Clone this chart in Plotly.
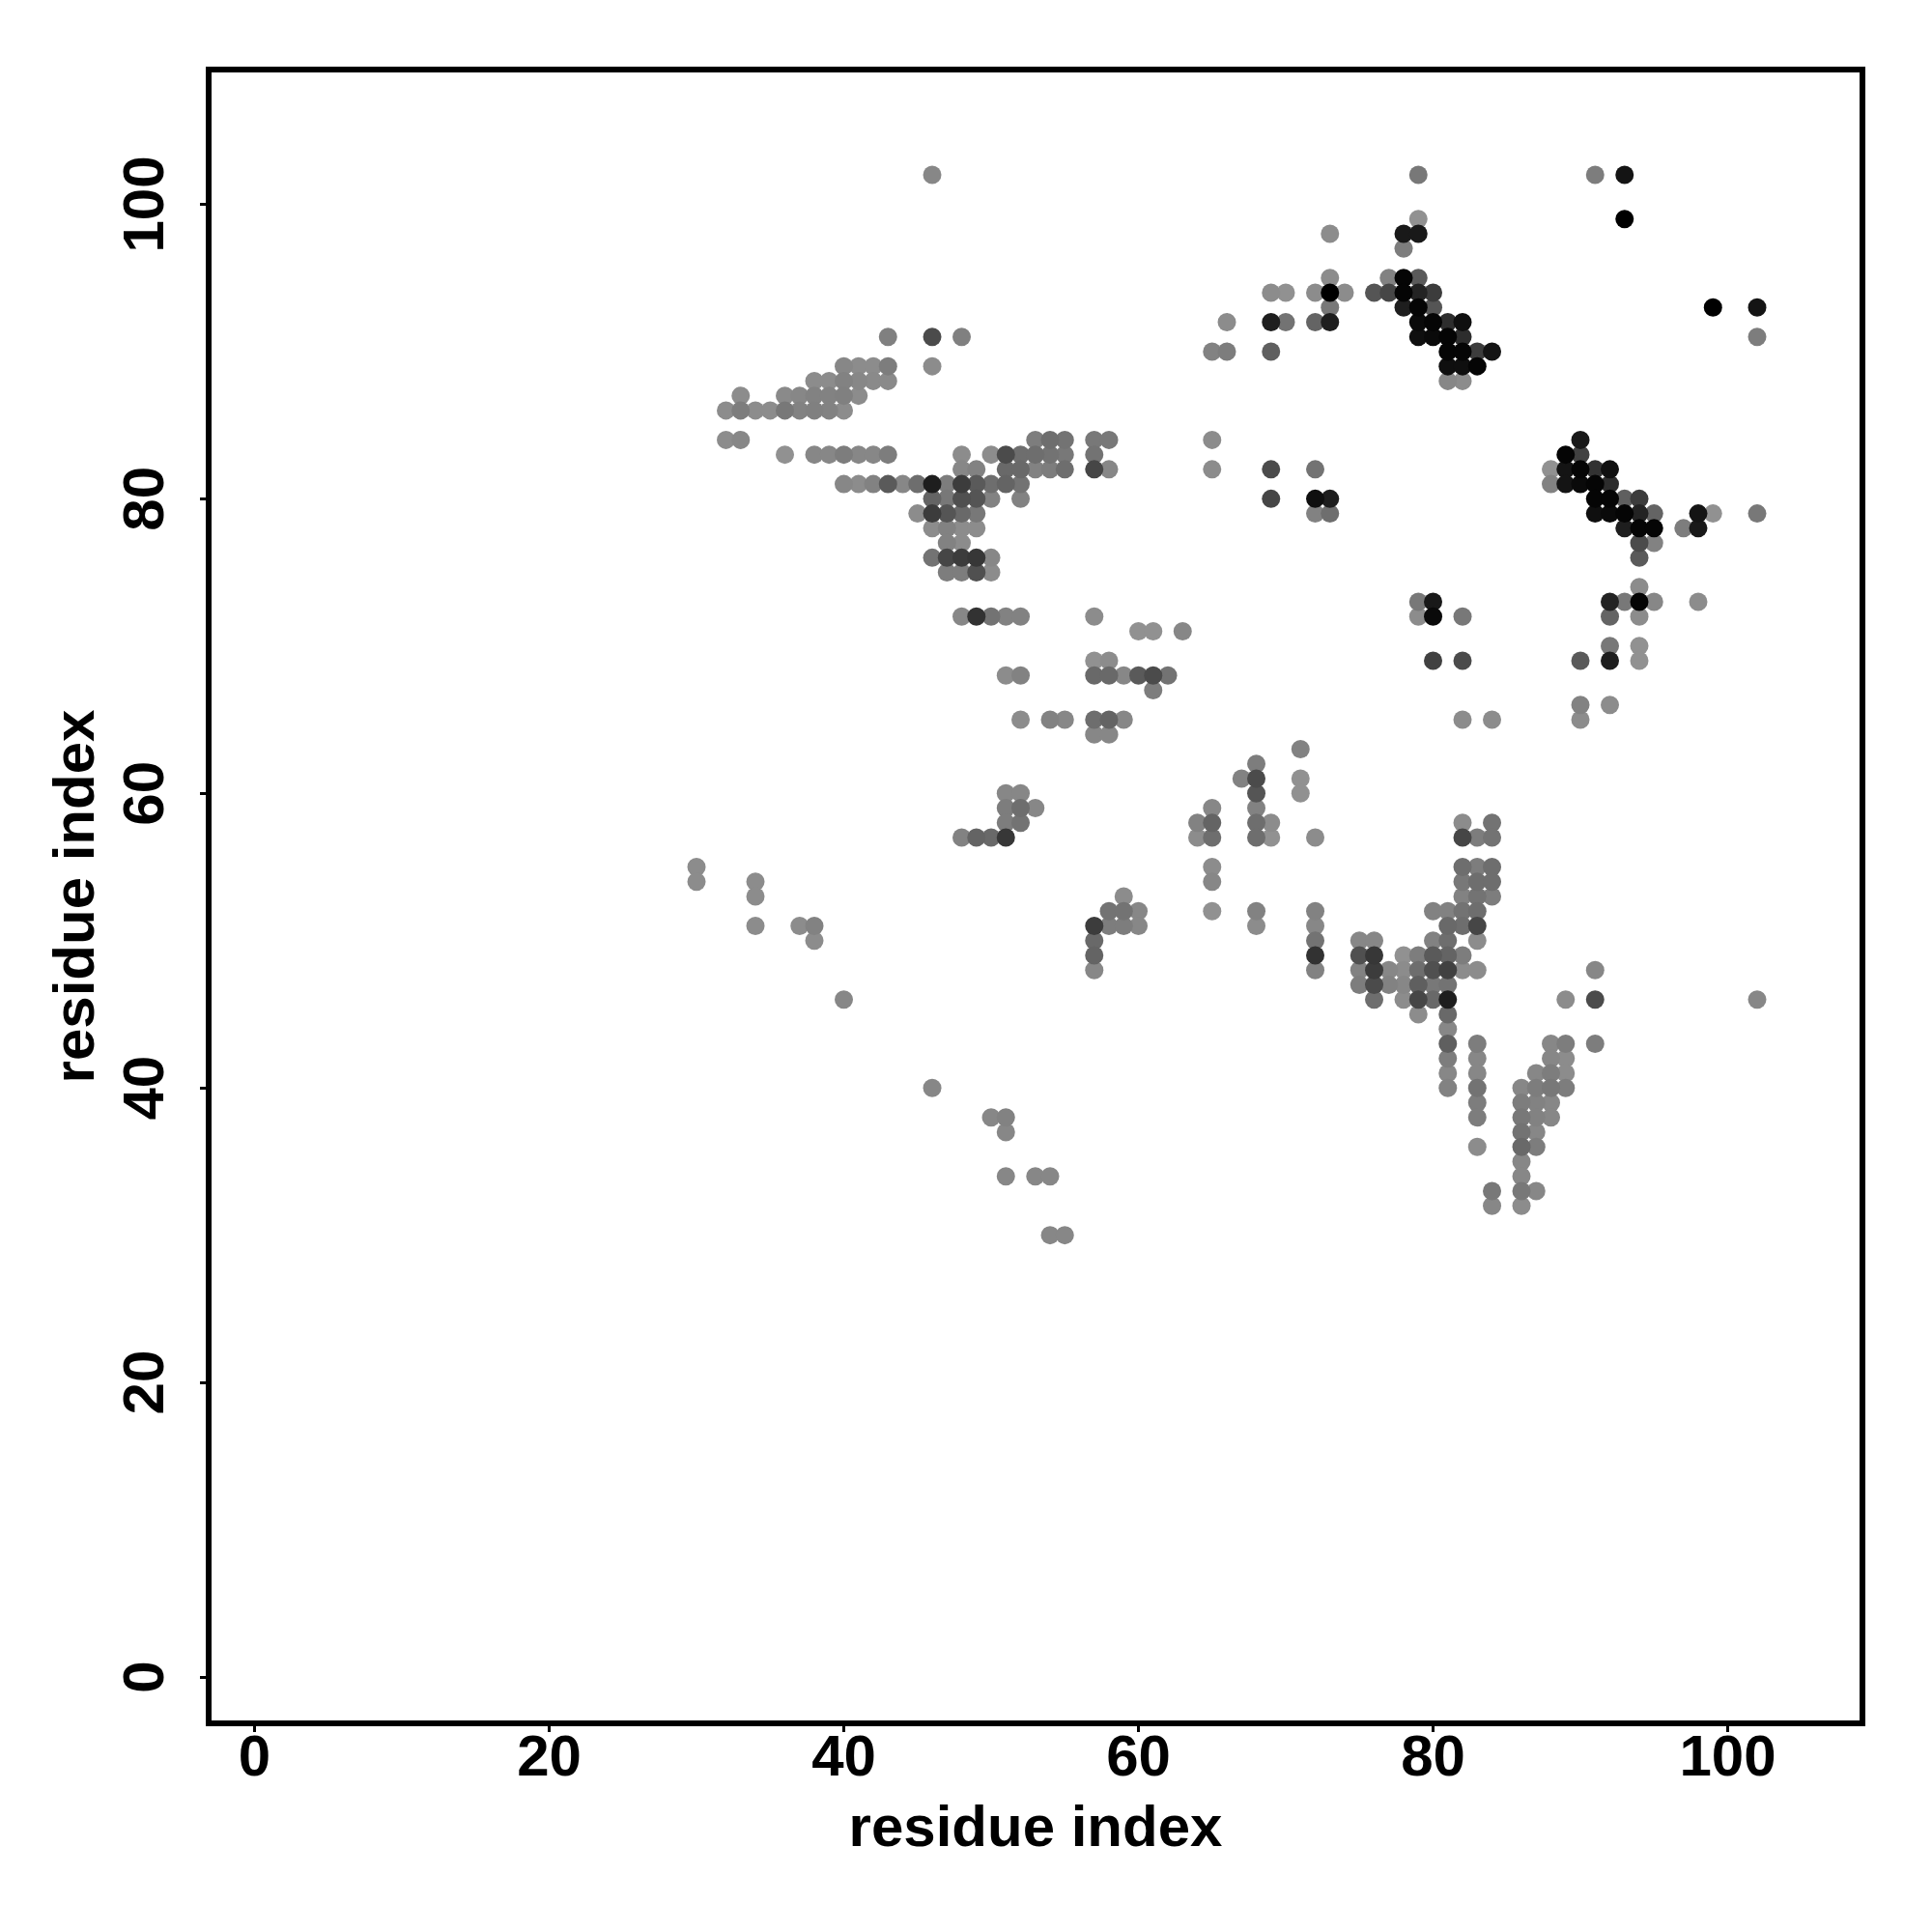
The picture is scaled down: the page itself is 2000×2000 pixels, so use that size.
import numpy as np
import plotly.graph_objects as go

tick_values = [0, 20, 40, 60, 80, 100]
axis_label = "residue index"

row_index = [102, 99, 98, 97, 95, 94, 93, 92, 91, 90, 89, 88, 87, 86, 84, 83, 82, 81, 80, 79, 78, 77, 76, 75, 74, 73,
             72, 71, 70, 69, 68, 67, 66, 65, 64, 63, 62, 61, 60, 59, 58, 57, 55, 54, 53, 52, 51, 50, 49, 48, 47, 46,
             45, 44, 43, 42, 41, 40, 39, 38, 37, 36, 35, 34, 33, 32, 30]

row_columns = [
    [46, 79, 91, 93],
    [79, 93],
    [73, 78, 79],
    [78],
    [73, 77, 78, 79],
    [69, 70, 72, 73, 74, 76, 77, 78, 79, 80],
    [73, 78, 79, 80, 99, 102],
    [66, 69, 70, 72, 73, 79, 80, 81, 82],
    [43, 46, 48, 79, 80, 81, 82, 102],
    [65, 66, 69, 81, 82, 83, 84],
    [40, 41, 42, 43, 46, 81, 82, 83],
    [38, 39, 40, 41, 42, 43, 81, 82],
    [33, 36, 37, 38, 39, 40, 41],
    [32, 33, 34, 35, 36, 37, 38, 39, 40],
    [32, 33, 53, 54, 55, 57, 58, 65, 90],
    [36, 38, 39, 40, 41, 42, 43, 48, 50, 51, 52, 53, 54, 55, 57, 89, 90],
    [48, 49, 51, 52, 53, 54, 55, 57, 58, 65, 69, 72, 88, 89, 90, 91, 92],
    [40, 41, 42, 43, 44, 45, 46, 47, 48, 49, 50, 51, 52, 88, 89, 90, 91, 92],
    [46, 47, 48, 49, 50, 52, 69, 72, 73, 91, 92, 93, 94],
    [45, 46, 47, 48, 49, 72, 73, 91, 92, 93, 94, 95, 98, 99, 102],
    [46, 47, 48, 49, 93, 94, 95, 97, 98],
    [47, 48, 94, 95],
    [46, 47, 48, 49, 50, 94],
    [47, 48, 49, 50],
    [94],
    [79, 80, 92, 93, 94, 95, 98],
    [48, 49, 50, 51, 52, 57, 79, 80, 82, 92, 94],
    [60, 61, 63],
    [92, 94],
    [57, 58, 80, 82, 90, 92, 94],
    [51, 52, 57, 58, 59, 60, 61, 62],
    [61],
    [90, 92],
    [52, 54, 55, 57, 58, 59, 82, 84, 90],
    [57, 58],
    [71],
    [68],
    [67, 68, 71],
    [51, 52, 68, 71],
    [51, 52, 53, 65, 68],
    [51, 52, 64, 65, 68, 69, 82, 84],
    [48, 49, 50, 51, 64, 65, 68, 69, 72, 82, 83, 84],
    [30, 65, 82, 83, 84],
    [30, 34, 65, 82, 83, 84],
    [34, 59, 82, 83, 84],
    [58, 59, 60, 65, 68, 72, 80, 81, 82, 83],
    [34, 37, 38, 57, 58, 59, 60, 68, 72, 81, 82, 83],
    [38, 57, 72, 75, 76, 80, 81, 83],
    [57, 72, 75, 76, 78, 79, 80, 81, 82],
    [57, 72, 75, 76, 77, 78, 79, 80, 81, 82, 83, 91],
    [75, 76, 77, 78, 79, 80, 81],
    [40, 76, 78, 79, 80, 81, 89, 91, 102],
    [79, 81],
    [81],
    [81, 83, 88, 89, 91],
    [81, 83, 88, 89],
    [81, 83, 87, 88, 89],
    [46, 81, 83, 86, 87, 88, 89],
    [83, 86, 87, 88],
    [50, 51, 83, 86, 87, 88],
    [51, 86, 87],
    [83, 86, 87],
    [86],
    [51, 53, 54, 86],
    [84, 86, 87],
    [84, 86],
    [54, 55],
]

row_shades = [
    [135, 120, 125, 20],
    [145, 0],
    [140, 25, 25],
    [125],
    [140, 130, 5, 90],
    [140, 145, 140, 0, 140, 85, 70, 5, 35, 60],
    [120, 30, 5, 85, 0, 20],
    [140, 30, 115, 100, 30, 10, 5, 45, 15],
    [128, 75, 128, 15, 10, 5, 45, 125],
    [130, 125, 95, 5, 5, 60, 20],
    [135, 140, 140, 125, 140, 15, 15, 5],
    [140, 140, 130, 135, 138, 138, 135, 140],
    [140, 138, 135, 130, 130, 128, 140],
    [140, 125, 140, 140, 120, 130, 128, 130, 140],
    [140, 135, 125, 110, 115, 120, 120, 140, 25],
    [145, 135, 135, 125, 135, 135, 125, 140, 140, 75, 110, 110, 115, 120, 115, 5, 65],
    [135, 130, 105, 105, 130, 125, 110, 70, 135, 140, 75, 115, 145, 20, 5, 50, 15],
    [135, 140, 130, 90, 135, 110, 30, 125, 60, 90, 110, 100, 115, 130, 20, 10, 5, 45],
    [100, 120, 80, 85, 130, 130, 70, 15, 30, 5, 5, 95, 60],
    [140, 60, 85, 105, 120, 130, 110, 15, 10, 5, 35, 100, 20, 145, 120],
    [140, 130, 140, 140, 30, 5, 5, 125, 25],
    [130, 140, 75, 130],
    [115, 70, 60, 55, 135, 90],
    [125, 125, 80, 140],
    [140],
    [120, 25, 35, 120, 5, 135, 140],
    [135, 50, 115, 130, 130, 140, 140, 10, 120, 100, 140],
    [145, 145, 135],
    [120, 145],
    [145, 140, 65, 75, 90, 30, 145],
    [140, 130, 105, 105, 135, 90, 75, 115],
    [125],
    [130, 140],
    [140, 130, 135, 110, 100, 135, 140, 140, 140],
    [135, 135],
    [130],
    [125],
    [130, 75, 145],
    [135, 135, 85, 145],
    [125, 110, 135, 135, 130],
    [125, 115, 130, 100, 110, 140, 140, 115],
    [130, 100, 105, 55, 140, 110, 110, 145, 140, 70, 125, 115],
    [140, 140, 110, 125, 110],
    [140, 140, 135, 120, 110, 110],
    [140, 140, 130, 115, 125],
    [115, 115, 135, 145, 130, 130, 130, 130, 115, 110],
    [140, 140, 130, 60, 125, 125, 135, 140, 135, 105, 110, 70],
    [140, 105, 115, 135, 135, 130, 110, 140],
    [100, 50, 80, 55, 145, 125, 90, 100, 125],
    [135, 130, 130, 60, 135, 140, 110, 80, 65, 140, 140, 135],
    [125, 75, 130, 135, 95, 120, 115],
    [135, 110, 140, 70, 105, 30, 140, 75, 135],
    [140, 105],
    [135],
    [95, 125, 135, 125, 125],
    [125, 135, 135, 140],
    [135, 135, 135, 125, 140],
    [135, 130, 115, 135, 125, 120, 125],
    [125, 125, 130, 135],
    [135, 130, 125, 120, 130, 135],
    [135, 115, 135],
    [140, 105, 125],
    [135],
    [135, 135, 135, 135],
    [120, 120, 135],
    [135, 140],
    [135, 135],
]

xs, ys, shades = [], [], []
for r, cols, vals in zip(row_index, row_columns, row_shades):
    for c, v in zip(cols, vals):
        xs.append(c)
        ys.append(r)
        shades.append(v)

order = np.argsort(-np.array(shades), kind="stable")
xs = np.array(xs)[order]
ys = np.array(ys)[order]
colors = [f"rgb({s},{s},{s})" for s in np.array(shades)[order]]

fig = go.Figure(
    go.Scatter(x=xs, y=ys, mode="markers",
               marker=dict(size=19, color=colors, line=dict(width=0)),
               hoverinfo="skip", showlegend=False)
)

font = dict(family="Liberation Sans", size=60, color="black")
tickfont = dict(family="Liberation Sans", size=60, color="black", weight="bold")
titlefont = dict(family="Liberation Sans", size=60, color="black", weight="bold")

common = dict(tickmode="array", tickvals=tick_values, ticktext=[str(t) for t in tick_values],
              showgrid=False, zeroline=False, showline=True, linecolor="black", linewidth=6,
              mirror=True, ticks="outside", ticklen=6, tickwidth=3, tickcolor="black",
              tickfont=tickfont, automargin=False)

fig.update_xaxes(range=[-2.92, 108.95], ticklabelstandoff=-27,
                 title=dict(text=axis_label, font=titlefont, standoff=21), **common)
fig.update_yaxes(range=[-2.95, 108.95], tickangle=-90, ticklabelstandoff=14, ticklabelshift=9,
                 title=dict(text=axis_label, font=titlefont, standoff=0), **common)

fig.update_layout(width=2000, height=2000, autosize=False, paper_bgcolor="white", plot_bgcolor="white",
                  margin=dict(l=211, r=83, t=67, b=227, pad=0), font=font)

fig.write_html("out.html")
